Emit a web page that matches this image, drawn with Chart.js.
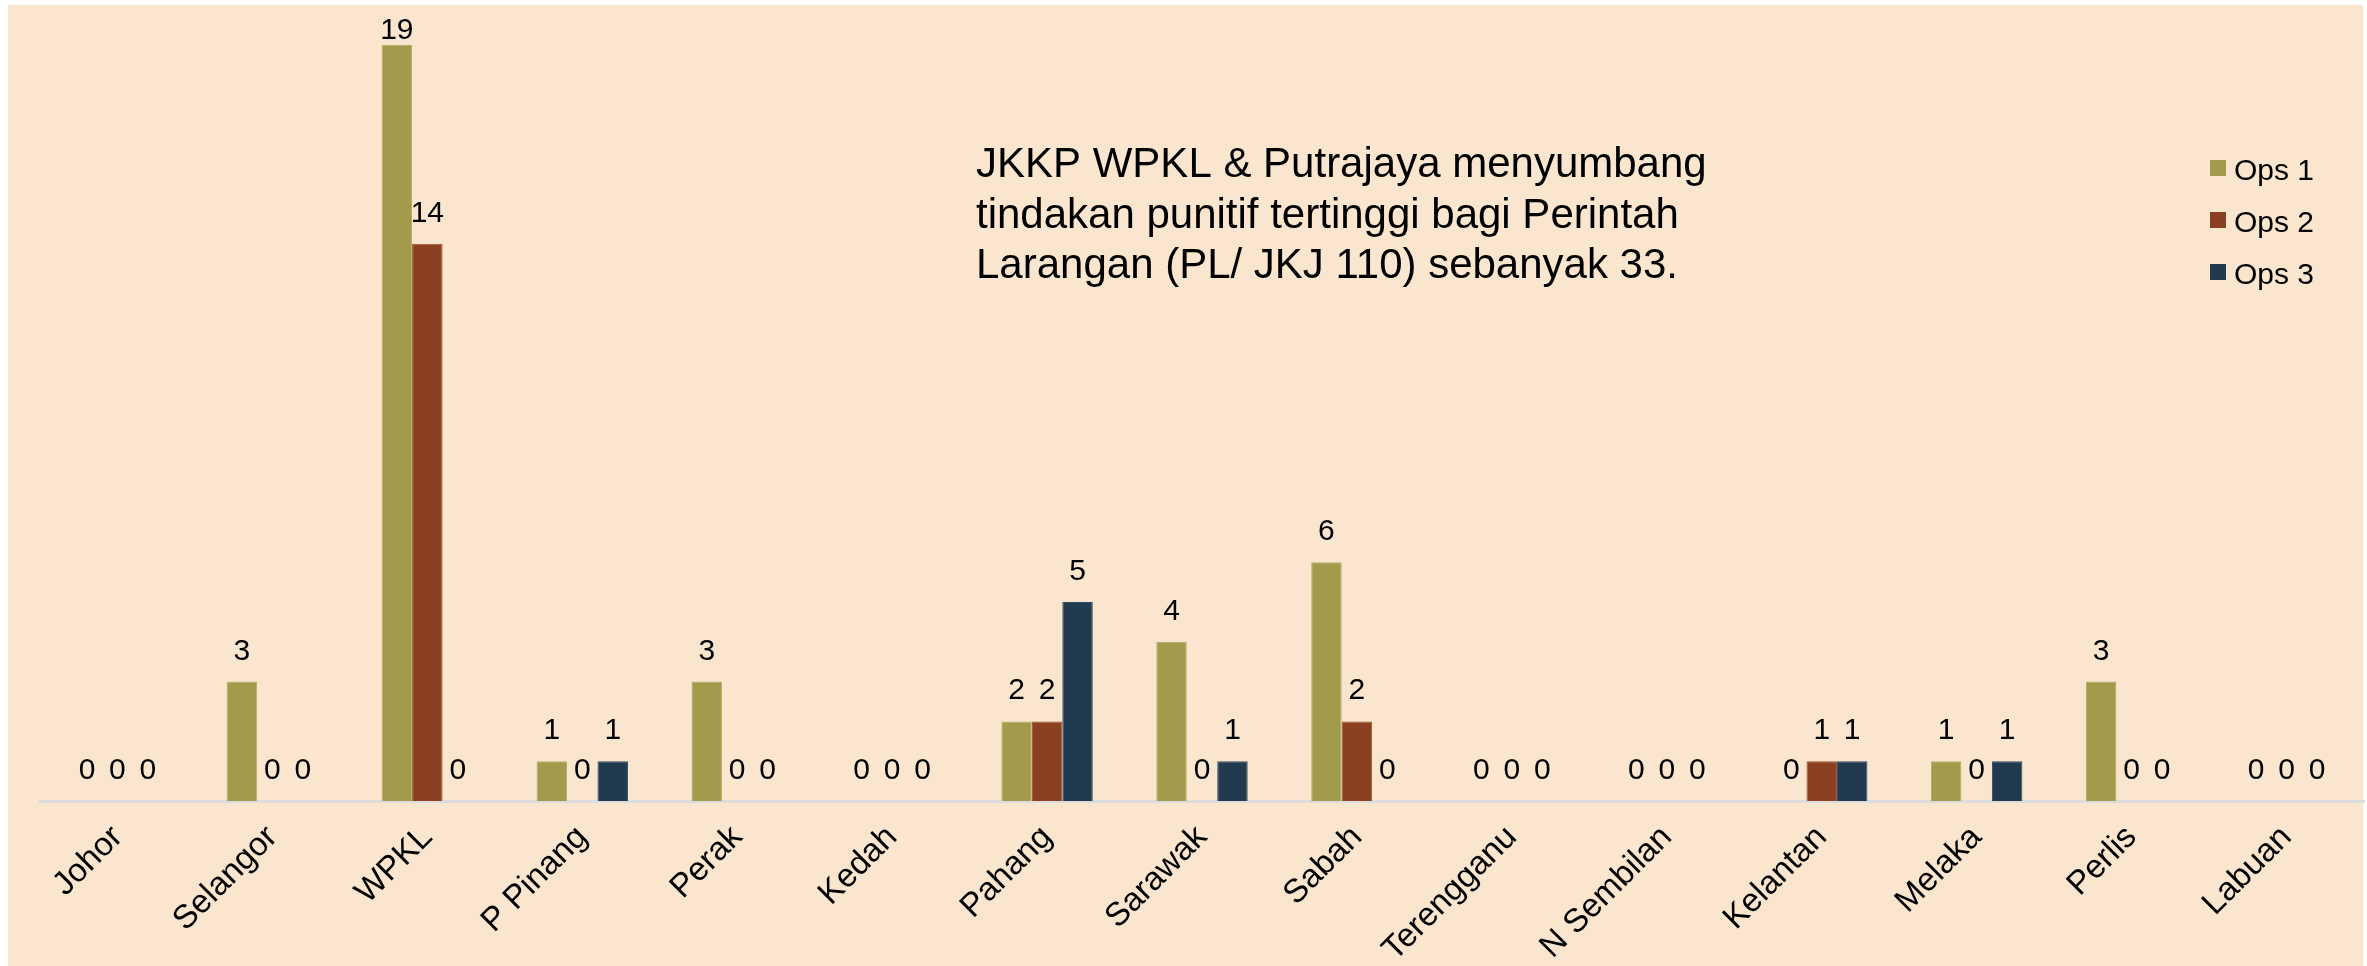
<!DOCTYPE html>
<html>
<head>
<meta charset="utf-8">
<script src="https://cdn.jsdelivr.net/npm/chart.js@4.4.0/dist/chart.umd.min.js"></script>
<style>
  html, body { margin: 0; padding: 0; background: #ffffff; overflow: hidden; }
  #wrap { position: relative; width: 2367px; height: 966px; }
</style>
</head>
<body>
<div id="wrap"><canvas id="c"></canvas></div>
<script>
const categories = ["Johor", "Selangor", "WPKL", "P Pinang", "Perak", "Kedah", "Pahang", "Sarawak", "Sabah", "Terengganu", "N Sembilan", "Kelantan", "Melaka", "Perlis", "Labuan"];
const seriesNames = ["Ops 1", "Ops 2", "Ops 3"];
const ops1 = [0, 3, 19, 1, 3, 0, 2, 4, 6, 0, 0, 0, 1, 3, 0];
const ops2 = [0, 0, 14, 0, 0, 0, 2, 0, 2, 0, 0, 1, 0, 0, 0];
const ops3 = [0, 0, 0, 1, 0, 0, 5, 1, 0, 0, 0, 1, 1, 0, 0];
const noteLines = [
  "JKKP WPKL & Putrajaya menyumbang",
  "tindakan punitif tertinggi bagi Perintah",
  "Larangan (PL/ JKJ 110) sebanyak 33."
];

const FONT = "'Liberation Sans', Arial, Helvetica, sans-serif";
const colors = ["#A39B4C", "#8B4022", "#213A4F"];
const borders = ["#B5AC5E", "#9A5030", "#2E4A62"];

const bgPlugin = {
  id: 'bg',
  beforeDraw(chart) {
    const ctx = chart.ctx;
    ctx.save();
    ctx.fillStyle = '#ffffff';
    ctx.fillRect(0, 0, chart.width, chart.height);
    ctx.fillStyle = '#FAE6CE';
    ctx.fillRect(8, 5, 2355, 961);
    ctx.restore();
  }
};

const valueLabels = {
  id: 'valueLabels',
  afterDatasetsDraw(chart) {
    const ctx = chart.ctx;
    ctx.save();
    ctx.font = "30px " + FONT;
    ctx.fillStyle = '#000000';
    ctx.textAlign = 'center';
    ctx.textBaseline = 'alphabetic';
    chart.data.datasets.forEach((ds, di) => {
      const meta = chart.getDatasetMeta(di);
      meta.data.forEach((el, i) => {
        const y = Math.max(el.y - 22, chart.chartArea.top + 34);
        ctx.fillText(String(ds.data[i]), el.x, y);
      });
    });
    ctx.restore();
  }
};

const legendAndNote = {
  id: 'legendAndNote',
  afterDraw(chart) {
    const ctx = chart.ctx;
    ctx.save();
    ctx.font = "30px " + FONT;
    ctx.textAlign = 'left';
    ctx.textBaseline = 'alphabetic';
    chart.data.datasets.forEach((ds, di) => {
      const y = 160 + di * 52;
      ctx.fillStyle = ds.backgroundColor;
      ctx.fillRect(2210, y, 16, 16);
      ctx.fillStyle = '#000000';
      ctx.fillText(ds.label, 2234, y + 20);
    });
    ctx.font = "42px " + FONT;
    ctx.fillStyle = '#000000';
    noteLines.forEach((t, i) => {
      ctx.fillText(t, 976, 177 + i * 50.5);
    });
    ctx.restore();
  }
};

const seriesData = [ops1, ops2, ops3];

new Chart(document.getElementById('c'), {
  type: 'bar',
  data: {
    labels: categories,
    datasets: seriesNames.map((n, i) => ({
      label: n,
      data: seriesData[i],
      backgroundColor: colors[i],
      borderColor: borders[i],
      borderWidth: 1,
      categoryPercentage: 0.59,
      barPercentage: 1.0
    }))
  },
  options: {
    responsive: true,
    maintainAspectRatio: false,
    animation: false,
    devicePixelRatio: 1,
    layout: { padding: { top: 5, left: 40, right: 3, bottom: 0 } },
    plugins: {
      legend: { display: false },
      tooltip: { enabled: false },
      title: { display: false }
    },
    scales: {
      x: {
        grid: { display: false, drawTicks: false },
        border: { display: true, color: '#DCDCDC', width: 3 },
        ticks: {
          color: '#000000',
          font: { family: FONT, size: 33 },
          maxRotation: 45,
          minRotation: 45,
          padding: 17,
          autoSkip: false
        },
        afterFit(scale) {
          scale.height = 165;
          scale.paddingLeft = 0;
          scale.paddingRight = 0;
        }
      },
      y: {
        display: false,
        min: 0,
        max: 20,
        grid: { display: false }
      }
    }
  },
  plugins: [bgPlugin, valueLabels, legendAndNote]
});
</script>
</body>
</html>
